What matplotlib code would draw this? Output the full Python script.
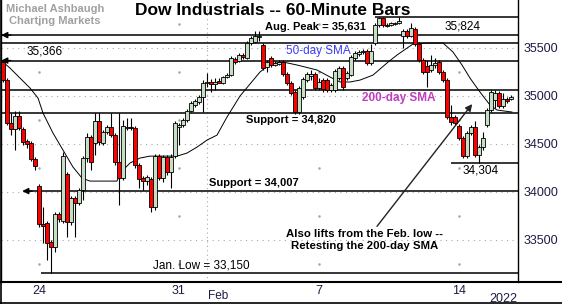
import matplotlib.pyplot as plt
from matplotlib.lines import Line2D
from matplotlib.transforms import blended_transform_factory

plt.rcParams['font.family'] = ['Liberation Sans', 'DejaVu Sans']

# 60-minute bars, Jan 20 -> Feb 15 2022 (bar index = hour of trading)
opens = [35350, 35165, 34715, 34655, 34790, 34655, 34525, 34505, 34340, 34060,
         33665, 33675, 33475, 33425, 33765, 33695, 34185, 33685, 33935, 33880,
         34015, 34350, 34570, 34505, 34735, 34505, 34620, 34675, 34590, 34310,
         34140, 34665, 34675, 34665, 34280, 34140, 34110, 34130, 33840, 34370,
         34140, 34360, 34205, 34370, 34675, 34695, 34745, 34840, 34905, 34935,
         34985, 35130, 35140, 35120, 35150, 35130, 35195, 35215, 35380, 35360,
         35425, 35395, 35550, 35560, 35610, 35530, 35300, 35390, 35320, 35330,
         35350, 35225, 35130, 35040, 34830, 34985, 35165, 35205, 35225, 35080,
         35165, 35165, 35060, 35060, 35185, 35290, 35185, 35215, 35395, 35435,
         35455, 35465, 35340, 35550, 35735, 35810, 35735, 35735, 35745, 35755,
         35620, 35675, 35620, 35695, 35540, 35370, 35310, 35270, 35320, 35350,
         35245, 35165, 34780, 34780, 34685, 34560, 34370, 34610, 34675, 34380,
         34465, 34695, 34850, 34955, 35030, 34890, 34965, 34965]
highs = [35370, 35185, 34820, 34840, 34840, 34675, 34550, 34530, 34360, 34080,
         33840, 33695, 33495, 33790, 33790, 34415, 34205, 33955, 33955, 34040,
         34370, 34610, 34590, 34820, 34820, 34640, 34695, 34820, 34610, 34820,
         34745, 34765, 34765, 34685, 34300, 34160, 34175, 34150, 34390, 34390,
         34380, 34380, 34390, 34735, 34715, 34765, 34860, 34945, 34965, 35005,
         35165, 35235, 35175, 35185, 35185, 35205, 35235, 35415, 35405, 35445,
         35445, 35570, 35620, 35675, 35675, 35550, 35370, 35410, 35360, 35370,
         35370, 35245, 35155, 35060, 35100, 35195, 35245, 35270, 35245, 35185,
         35185, 35185, 35130, 35280, 35310, 35310, 35255, 35425, 35465, 35475,
         35485, 35485, 35540, 35755, 35824, 35824, 35755, 35765, 35765, 35815,
         35695, 35695, 35755, 35715, 35560, 35390, 35370, 35425, 35390, 35370,
         35270, 35185, 34905, 34800, 34705, 34580, 34630, 34695, 34735, 34485,
         34620, 34870, 35060, 35060, 35050, 35030, 34985, 35005]
lows = [35145, 34695, 34590, 34435, 34645, 34485, 34455, 34320, 34225, 33630,
        33465, 33290, 33150, 33370, 33685, 33675, 33525, 33655, 33525, 33860,
        33915, 34310, 34225, 34380, 34485, 34485, 34600, 34570, 34280, 33860,
        34120, 34640, 34640, 34245, 34040, 34015, 34070, 33790, 33810, 34120,
        34100, 34175, 34040, 34350, 34485, 34675, 34725, 34830, 34880, 34915,
        34830, 35090, 35040, 35060, 35130, 35120, 35185, 35205, 35330, 35350,
        35380, 35380, 35530, 35550, 35570, 35265, 35245, 35300, 35310, 35320,
        35205, 35110, 35005, 34810, 34810, 34965, 35145, 35165, 35060, 35060,
        35040, 35040, 35040, 35040, 35165, 35060, 35165, 35205, 35370, 35415,
        35435, 35320, 35320, 35530, 35715, 35715, 35715, 35725, 35735, 35745,
        35495, 35600, 35610, 35515, 35350, 35225, 35090, 35245, 35290, 35225,
        35140, 34755, 34695, 34695, 34540, 34350, 34350, 34590, 34360, 34304,
        34435, 34675, 34830, 34870, 34870, 34870, 34925, 34955]
closes = [35165, 34715, 34655, 34790, 34665, 34515, 34495, 34340, 34265, 33665,
          33645, 33465, 33425, 33765, 33715, 34370, 33685, 33935, 33880, 34015,
          34350, 34570, 34310, 34735, 34515, 34620, 34675, 34590, 34310, 34140,
          34685, 34675, 34665, 34280, 34130, 34110, 34150, 33840, 34370, 34140,
          34360, 34205, 34360, 34715, 34695, 34745, 34840, 34925, 34945, 34985,
          35130, 35140, 35120, 35140, 35130, 35195, 35215, 35395, 35350, 35425,
          35405, 35550, 35600, 35620, 35620, 35290, 35350, 35320, 35340, 35350,
          35225, 35130, 35030, 34830, 35080, 35175, 35225, 35225, 35080, 35140,
          35070, 35060, 35110, 35255, 35290, 35090, 35235, 35405, 35445, 35455,
          35465, 35340, 35465, 35735, 35810, 35735, 35725, 35755, 35755, 35780,
          35675, 35620, 35705, 35540, 35370, 35245, 35245, 35320, 35340, 35245,
          35165, 34780, 34725, 34715, 34560, 34370, 34610, 34675, 34380, 34465,
          34560, 34850, 35040, 35030, 34890, 34965, 34945, 34985]

# short-term moving average of the hourly closes
ma_idx = [0, 1.75, 4.25, 6.75, 8.75, 10, 12.5, 15, 17.5, 19.75, 21.75, 28.5, 29.25,
          31.75, 34.25, 36.75, 43.5, 46, 48.5, 51, 53.5, 56, 59.25, 61.75, 64.25,
          66.75, 70, 73.5, 78.5, 81.75, 84.25, 86.75, 89.25, 92.5, 96, 98.5, 102.5,
          106.75, 110, 112.5, 114.75, 116.75, 119.25, 121.75, 123.5, 127.25]
ma_vals = [35351, 35288, 35184, 35080, 34976, 34820, 34611, 34434, 34257, 34142,
           34111, 34111, 34194, 34299, 34351, 34371, 34371, 34403, 34465, 34538,
           34590, 34778, 34997, 35122, 35247, 35330, 35351, 35320, 35268, 35195,
           35143, 35143, 35163, 35215, 35341, 35424, 35539, 35549, 35549, 35455,
           35320, 35184, 35038, 34903, 34851, 34830]

# price levels
aug_peak = 35631
feb_high = 35824
sma50_level = 35549
sma200_level = 35059
level_35366 = 35366
support_1 = 34820
feb_low = 34304
support_2 = 34007
jan_low = 33150

week_ticks = [9, 44, 79, 114]
week_labels = ['24', '31', '7', '14']
feb_start = 51
price_ticks = [33500, 34000, 34500, 35000, 35500]
mid_levels = [33250, 33750, 34250, 34750, 35250, 35750]

W, H = 562, 304
fig = plt.figure(figsize=(W / 100, H / 100), dpi=100)
ax = fig.add_axes([1 / W, (H - 282) / H, 517 / W, 282 / H])
xmin, xmax = -0.5, 128.75
ax.set_xlim(xmin, xmax)
ax.set_ylim(33060, 35997)

# grid
ax.hlines(price_ticks, xmin, xmax, colors='#a8a8a8', linestyles=(0, (1, 4)), lw=0.8, zorder=0)
ax.axvline(feb_start, color='#a8a8a8', ls=(0, (1, 3)), lw=0.8, zorder=0)
for w in week_ticks:
    ax.plot([w] * len(mid_levels), mid_levels, ls='none', marker='s', ms=0.8,
            color='#a8a8a8', zorder=0)

# level lines
full = [aug_peak, sma50_level, level_35366, sma200_level, support_1]
ax.hlines(full, xmin, xmax, colors='black', lw=1.1, zorder=1)
ax.hlines(feb_high, 93, xmax, colors='black', lw=1.1, zorder=1)
ax.hlines(feb_low, 112, xmax, colors='black', lw=1.1, zorder=1)
ax.hlines(support_2, 5.5, xmax, colors='black', lw=1.1, zorder=1)
ax.hlines(jan_low, 9.5, xmax, colors='black', lw=1.1, zorder=1)
arrow = dict(arrowstyle='-|>', color='black', lw=1.0, mutation_scale=9, shrinkA=0, shrinkB=0)
ax.annotate('', xy=(-0.45, aug_peak), xytext=(2.0, aug_peak), arrowprops=arrow)
ax.annotate('', xy=(-0.45, level_35366), xytext=(2.0, level_35366), arrowprops=arrow)
ax.annotate('', xy=(4.8, support_2), xytext=(7.3, support_2), arrowprops=arrow)

# moving average
ax.plot(ma_idx, ma_vals, color='black', lw=0.7, zorder=2)

# candles
x = list(range(len(closes)))
ax.vlines(x, lows, highs, colors='black', lw=0.8, zorder=3)
cols = ['#c6dec6' if c >= o else '#ff0000' for o, c in zip(opens, closes)]
hts = [c - o if c != o else 4 for o, c in zip(opens, closes)]
ax.bar(x, hts, bottom=opens, width=0.78, color=cols, edgecolor='black',
       linewidth=0.6, zorder=4)

# texts
bold = dict(fontweight='bold', fontsize=8, color='black')
ax.text(78.2, aug_peak + 30, 'Aug. Peak = 35,631', ha='center', va='bottom', **bold)
ax.text(78.8, sma50_level - 25, '50-day SMA', ha='center', va='top',
        fontsize=8.5, color='#3c3cf5')
ax.text(99.0, sma200_level - 20, '200-day SMA', ha='center', va='top',
        fontsize=8.5, color='#c03cc0', fontweight='bold')
ax.text(72.0, support_1 - 25, 'Support = 34,820', ha='center', va='top', **bold)
ax.text(62.8, support_2 + 30, 'Support = 34,007', ha='center', va='bottom', **bold)
ax.text(5.8, level_35366 + 30, '35,366', ha='left', va='bottom', fontsize=8.5)
ax.text(114.8, feb_high - 40, '35,824', ha='center', va='top', fontsize=8.5)
ax.text(119.5, feb_low - 25, '34,304', ha='center', va='top', fontsize=8.5)
ax.text(37.5, jan_low + 20, 'Jan. Low = 33,150', ha='left', va='bottom', fontsize=8.5)
ax.text(90.3, 33500, 'Also lifts from the Feb. low --\nRetesting the 200-day SMA',
        ha='center', va='center', linespacing=1.25, fontweight='bold', fontsize=8.2)
ax.annotate('', xy=(117.3, 34913), xytext=(93.5, 33640),
            arrowprops=dict(arrowstyle='-|>', color='#222222', lw=1.0,
                            mutation_scale=10, shrinkA=0, shrinkB=0))

ax.text(67.5, 35890, 'Dow Industrials -- 60-Minute Bars', ha='center', va='center',
        fontsize=12.5, fontweight='bold')
fig.text(6 / W, 1 - 9 / H, 'Michael Ashbaugh', ha='left', va='center',
         fontsize=8, fontweight='bold', color='#a0a0a0')
fig.text(9 / W, 1 - 21 / H, 'Charting Markets', ha='left', va='center',
         fontsize=8, fontweight='bold', color='#a0a0a0')

# axes
ax.yaxis.tick_right()
ax.set_yticks(price_ticks)
ax.set_yticklabels([str(p) for p in price_ticks])
ax.set_xticks(week_ticks)
ax.set_xticklabels(week_labels)
ax.tick_params(axis='y', length=0, pad=4, labelsize=9, labelcolor='#1c1c44')
ax.tick_params(axis='x', length=0, pad=2, labelsize=9, labelcolor='#1c1c44')
for s in ['top', 'bottom']:
    ax.spines[s].set_visible(False)
ax.spines['right'].set_linewidth(1.0)
ax.spines['left'].set_linewidth(1.0)

tr = blended_transform_factory(ax.transData, ax.transAxes)
ax.text(51.3, -0.071, 'Feb', transform=tr, ha='left', va='bottom', fontsize=8.5, color='#1c1c44')
ax.text(128.6, -0.040, '2022', transform=tr, ha='right', va='top', fontsize=9, color='#1c1c44')

fig.add_artist(Line2D([0, 1], [22 / H, 22 / H], transform=fig.transFigure, color='black', lw=1.5))
fig.add_artist(Line2D([0, 1], [0.6 / H, 0.6 / H], transform=fig.transFigure, color='black', lw=1.2))
fig.add_artist(Line2D([0.6 / W, 0.6 / W], [0, 1], transform=fig.transFigure, color='black', lw=1.2))

fig.savefig('out.png', dpi=100)
